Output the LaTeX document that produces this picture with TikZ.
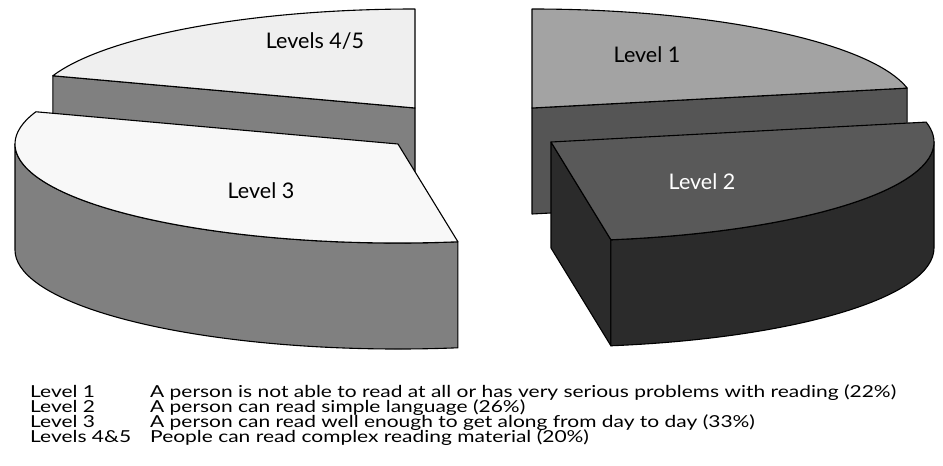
\documentclass[tikz,border=0pt]{standalone}
\usepackage{fontspec}
\setmainfont{Lato}
\newfontfamily\lgdfont[FakeStretch=1.27]{Lato}
\usetikzlibrary{calc}
\definecolor{topA}{HTML}{EFEFEF}
\definecolor{topB}{HTML}{F8F8F8}
\definecolor{sideA}{HTML}{808080}
\definecolor{topC}{HTML}{A3A3A3}
\definecolor{sideC}{HTML}{555555}
\definecolor{topD}{HTML}{595959}
\definecolor{sideD}{HTML}{2B2B2B}
\begin{document}
\begin{tikzpicture}[x=1pt,y=-1pt,line join=round,
  face/.style={draw=black,line width=1.1pt},
  plabel/.style={font=\fontsize{21.5}{24}\selectfont,inner sep=0pt},
  lgd/.style={font=\lgdfont\fontsize{16.5}{18}\selectfont,anchor=base west,inner sep=0pt}]
\useasboundingbox (0,0) rectangle (943,466);
% ---- Levels 4/5 (back left)
\coordinate (C4) at (415,108);
\coordinate (A4) at ($(C4)+(199:383 and 99)$);
\filldraw[face,fill=sideA] (C4) -- (A4) -- ++(0,106) -- ($(C4)+(0,106)$) -- cycle;
\filldraw[face,fill=topA] (C4) -- (A4) arc[start angle=199,end angle=270,x radius=383,y radius=99] -- cycle;
% ---- Level 1 (back right)
\coordinate (C1) at (532,108);
\coordinate (T1) at ($(C1)+(270:383 and 99)$);
\coordinate (B1) at ($(C1)+(-11.6:383 and 99)$);
\filldraw[face,fill=sideC] (C1) -- (B1) -- ++(0,106) -- ($(C1)+(0,106)$) -- cycle;
\filldraw[face,fill=topC] (C1) -- (T1) arc[start angle=270,end angle=348.4,x radius=383,y radius=99] -- cycle;
% ---- Level 3 (front left)
\coordinate (C3) at (398,144);
\coordinate (F3) at ($(C3)+(81:383 and 99)$);
\coordinate (L3) at ($(C3)+(180:383 and 99)$);
\filldraw[face,fill=sideA] (F3) -- ++(0,106) arc[start angle=81,end angle=180,x radius=383,y radius=99] -- (L3) arc[start angle=180,end angle=81,x radius=383,y radius=99] -- cycle;
\filldraw[face,fill=topB] (C3) -- (F3) arc[start angle=81,end angle=199,x radius=383,y radius=99] -- cycle;
% ---- Level 2 (front right)
\coordinate (C2) at (551,142);
\coordinate (F2) at ($(C2)+(81:383 and 99)$);
\coordinate (R2) at ($(C2)+(0:383 and 99)$);
\coordinate (K2) at ($(C2)+(-11.6:383 and 99)$);
\filldraw[face,fill=sideD] (C2) -- (F2) -- ++(0,106) -- ($(C2)+(0,106)$) -- cycle;
\filldraw[face,fill=sideD] (R2) -- ++(0,106) arc[start angle=0,end angle=81,x radius=383,y radius=99] -- (F2) arc[start angle=81,end angle=0,x radius=383,y radius=99] -- cycle;
\filldraw[face,fill=topD] (C2) -- (K2) arc[start angle=-11.6,end angle=81,x radius=383,y radius=99] -- cycle;
% ---- slice labels
\node[plabel] (n45) at (315,41) {Levels 4/5};
\node[plabel] (n3) at (261,191) {Level 3};
\node[plabel] (n1) at (647,55) {Level 1};
\node[plabel,text=white] (n2) at (702,182) {Level 2};
% ---- legend
\node[lgd] (k1) at (30,397) {Level 1};
\node[lgd] (d1) at (150,397) {A person is not able to read at all or has very serious problems with reading (22\%)};
\node[lgd] (k2) at (30,412) {Level 2};
\node[lgd] (d2) at (150,412) {A person can read simple language (26\%)};
\node[lgd] (k3) at (30,427) {Level 3};
\node[lgd] (d3) at (150,427) {A person can read well enough to get along from day to day (33\%)};
\node[lgd] (k4) at (30,442) {Levels 4\&5};
\node[lgd] (d4) at (150,442) {People can read complex reading material (20\%)};
\end{tikzpicture}
\end{document}
